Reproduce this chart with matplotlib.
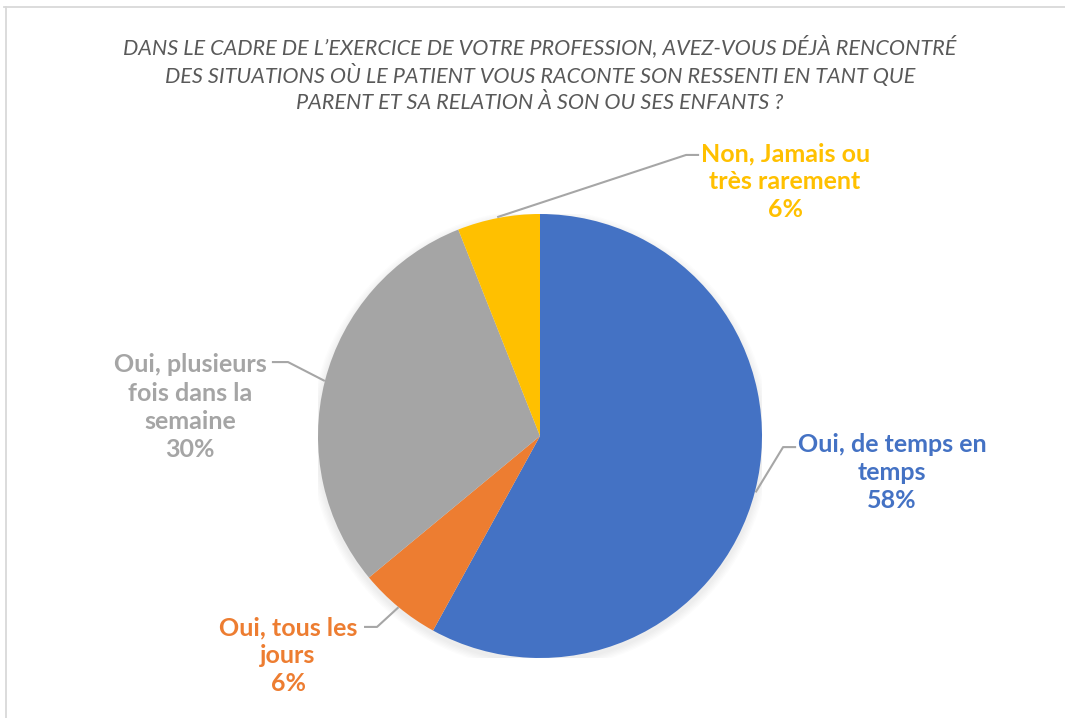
import numpy as np
import matplotlib
matplotlib.use('Agg')
import matplotlib.pyplot as plt
from matplotlib.lines import Line2D

plt.rcParams['font.family'] = ['Lato', 'DejaVu Sans']

# ------------------- DATA -------------------
title = ("DANS LE CADRE DE L\u2019EXERCICE DE VOTRE PROFESSION, AVEZ-VOUS DÉJÀ RENCONTRÉ\n"
         "DES SITUATIONS OÙ LE PATIENT VOUS RACONTE SON RESSENTI EN TANT QUE\n"
         "PARENT ET SA RELATION À SON OU SES ENFANTS ?")
labels = ['Oui, de temps en\ntemps', 'Oui, tous les\njours',
          'Oui, plusieurs\nfois dans la\nsemaine', 'Non, Jamais ou\ntrès rarement']
values = [58, 6, 30, 6]
colors = ['#4472C4', '#ED7D31', '#A5A5A5', '#FFC000']

# label layout (data units, pie radius = 1): elbow, end of leader, text centre
elbows = [(1.095, -0.050), (-0.734, -0.860), (-1.135, 0.333), (0.658, 1.266)]
ends = [(1.149, -0.050), (-0.788, -0.860), (-1.203, 0.333), (0.712, 1.266)]
text_pos = [(1.586, -0.165), (-1.135, -0.990), (-1.575, 0.130), (1.104, 1.146)]

W, H = 1065, 718
cx, cy, r = 540, 436, 222

fig = plt.figure(figsize=(W / 100, H / 100), dpi=100)
ax = fig.add_axes([(cx - r) / W, (H - cy - r) / H, 2 * r / W, 2 * r / H])

# soft shadow under the pie
for k in range(6):
    sh = plt.Circle((0.0, -0.015), 1.0 + 0.006 * (k + 1), color='black',
                    alpha=0.012, zorder=0, lw=0)
    ax.add_patch(sh)

wedges, _ = ax.pie(values, colors=colors, startangle=90, counterclock=False,
                   radius=1.0, wedgeprops=dict(linewidth=0))

for w, lab, v, c, el, en, tp in zip(wedges, labels, values, colors, elbows, ends, text_pos):
    mid = np.deg2rad((w.theta1 + w.theta2) / 2)
    sx, sy = 1.005 * np.cos(mid), 1.005 * np.sin(mid)
    ax.add_line(Line2D([sx, el[0], en[0]], [sy, el[1], en[1]], color='#A6A6A6',
                       lw=1.5, clip_on=False, zorder=3))
    ax.text(tp[0], tp[1], f'{lab}\n{v}%', color=c, fontsize=18, fontweight='bold',
            ha='center', va='center', linespacing=1.27, clip_on=False)

ax.set_xlim(-1, 1)
ax.set_ylim(-1, 1)
ax.set_aspect('equal')
ax.axis('off')

fig.text(cx / W, 1 - 74 / H, title, ha='center', va='center', fontsize=15.6,
         style='italic', color='#595959', linespacing=1.36)

# chart frame (top and left edges visible)
fig.add_artist(Line2D([4 / W, 1], [1 - 7 / H, 1 - 7 / H], color='#D9D9D9', lw=1.3))
fig.add_artist(Line2D([6 / W, 6 / W], [0, 1 - 7 / H], color='#D9D9D9', lw=1.3))

fig.savefig('out.png', dpi=100, facecolor='white')
